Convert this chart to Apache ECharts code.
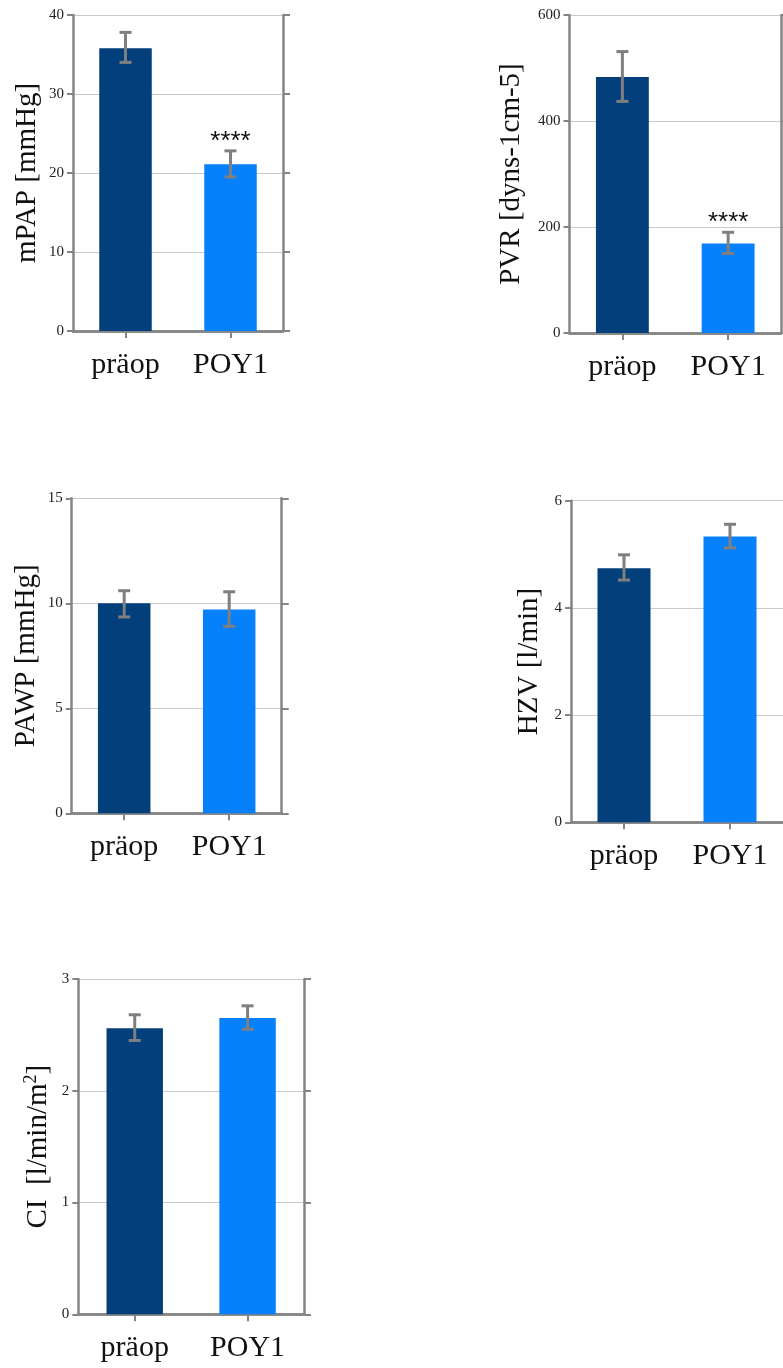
<!DOCTYPE html>
<html>
<head>
<meta charset="utf-8">
<script src="https://cdn.jsdelivr.net/npm/echarts@6/dist/echarts.min.js"></script>
<style>
html,body{margin:0;padding:0;background:#fff;}
#chart{width:783px;height:1368px;}
</style>
</head>
<body>
<div id="chart"></div>
<script>
// ---- data ----
const categories = ['präop', 'POY1'];
const barColors = ['#033f7b', '#0780fc'];

const mPAPMean = [35.8, 21.1];
const mPAPLow  = [34.0, 19.5];
const mPAPHigh = [37.8, 22.8];
const mPAPSig  = ['', '****'];

const pvrMean = [483, 169];
const pvrLow  = [437, 150];
const pvrHigh = [531, 190];
const pvrSig  = ['', '****'];

const pawpMean = [10.0, 9.7];
const pawpLow  = [9.35, 8.9];
const pawpHigh = [10.6, 10.55];
const pawpSig  = ['', ''];

const hzvMean = [4.74, 5.33];
const hzvLow  = [4.52, 5.12];
const hzvHigh = [4.99, 5.56];
const hzvSig  = ['', ''];

const ciMean = [2.56, 2.65];
const ciLow  = [2.45, 2.55];
const ciHigh = [2.68, 2.76];
const ciSig  = ['', ''];

const panels = [
  {name:'mPAP [mmHg]', max:40, interval:10, mean:mPAPMean, lo:mPAPLow, hi:mPAPHigh, sig:mPAPSig,
   grid:{left:73, top:15, width:210, height:316}, nameGap:31, rightFrame:true},
  {name:'PVR [dyns-1cm-5]', max:600, interval:200, mean:pvrMean, lo:pvrLow, hi:pvrHigh, sig:pvrSig,
   grid:{left:569.5, top:15, width:211.5, height:318}, nameGap:44, rightFrame:true},
  {name:'PAWP [mmHg]', max:15, interval:5, mean:pawpMean, lo:pawpLow, hi:pawpHigh, sig:pawpSig,
   grid:{left:71.7, top:498.3, width:210, height:315}, nameGap:31, rightFrame:true},
  {name:'HZV [l/min]', max:6, interval:2, mean:hzvMean, lo:hzvLow, hi:hzvHigh, sig:hzvSig,
   grid:{left:571, top:500.7, width:214, height:321.6}, nameGap:27, rightFrame:false},
  {name:'CI  [l/min/m{sup|2}]', max:3, interval:1, mean:ciMean, lo:ciLow, hi:ciHigh, sig:ciSig,
   grid:{left:78.3, top:979, width:225.7, height:335.3}, nameGap:24, rightFrame:true}
];

const axisGray = '#858585';
const axisW = 2.5;
const serif = '"Liberation Serif", "DejaVu Serif", serif';

const grids = [], xAxes = [], yAxes = [], series = [];
panels.forEach((p, i) => {
  grids.push(Object.assign({}, p.grid));
  // bottom category axis
  xAxes.push({
    type:'category', gridIndex:i, data:categories, position:'bottom',
    axisLine:{show:true, lineStyle:{color:axisGray, width:axisW}},
    axisTick:{show:true, alignWithLabel:true, length:7, lineStyle:{color:axisGray, width:2}},
    axisLabel:{fontSize:30, fontFamily:serif, color:'#111', margin:19},
    splitLine:{show:false}
  });
  // top category axis (frame)
  xAxes.push({
    type:'category', gridIndex:i, data:categories, position:'top',
    axisLine:{show:true, lineStyle:{color:axisGray, width:axisW}},
    axisTick:{show:true, alignWithLabel:true, length:6, lineStyle:{color:axisGray, width:2}},
    axisLabel:{show:false}, splitLine:{show:false}
  });
  yAxes.push({
    type:'value', gridIndex:i, min:0, max:p.max, interval:p.interval, position:'left',
    name:p.name, nameLocation:'middle', nameGap:p.nameGap,
    nameTextStyle:{fontSize:29, fontFamily:serif, color:'#111',
      rich:{sup:{fontSize:18, fontFamily:serif, color:'#111', verticalAlign:'top', padding:[0,0,14,0]}}},
    axisLine:{show:true, lineStyle:{color:axisGray, width:axisW}},
    axisTick:{show:true, length:6, lineStyle:{color:axisGray, width:2}},
    axisLabel:{fontSize:15, fontFamily:serif, color:'#222', margin:9},
    splitLine:{show:true, lineStyle:{color:'#c9c9c9', width:1}}
  });
  yAxes.push({
    type:'value', gridIndex:i, min:0, max:p.max, interval:p.interval, position:'right',
    axisLine:{show:p.rightFrame, lineStyle:{color:axisGray, width:axisW}},
    axisTick:{show:p.rightFrame, length:7, lineStyle:{color:axisGray, width:2}},
    axisLabel:{show:false}, splitLine:{show:false}
  });
  series.push({
    type:'bar', xAxisIndex:2*i, yAxisIndex:2*i, barWidth:'50%',
    data:p.mean.map((v, k) => ({value:v, itemStyle:{color:barColors[k]}})),
    z:2
  });
  const sig = p.sig;
  series.push({
    type:'custom', xAxisIndex:2*i, yAxisIndex:2*i, z:5,
    data:p.mean.map((v, k) => [k, p.lo[k], p.hi[k]]),
    renderItem:function(params, api){
      const c = api.value(0);
      const top = api.coord([c, api.value(2)]);
      const bot = api.coord([c, api.value(1)]);
      const hw = 6;
      const st = {stroke:'#7f7f7f', lineWidth:3};
      const children = [
        {type:'line', shape:{x1:top[0], y1:top[1], x2:bot[0], y2:bot[1]}, style:st},
        {type:'line', shape:{x1:top[0]-hw, y1:top[1], x2:top[0]+hw, y2:top[1]}, style:st},
        {type:'line', shape:{x1:bot[0]-hw, y1:bot[1], x2:bot[0]+hw, y2:bot[1]}, style:st}
      ];
      const s = sig[params.dataIndex];
      if (s) {
        children.push({type:'text', style:{text:s, x:top[0], y:top[1]-9,
          textAlign:'center', textVerticalAlign:'middle',
          fontSize:26, fontFamily:'"Liberation Sans", Arial, sans-serif', fill:'#111'}});
      }
      return {type:'group', children:children};
    }
  });
});

const chart = echarts.init(document.getElementById('chart'), null, {renderer:'canvas'});
chart.setOption({
  animation:false,
  backgroundColor:'#ffffff',
  grid:grids, xAxis:xAxes, yAxis:yAxes, series:series
});
</script>
</body>
</html>
